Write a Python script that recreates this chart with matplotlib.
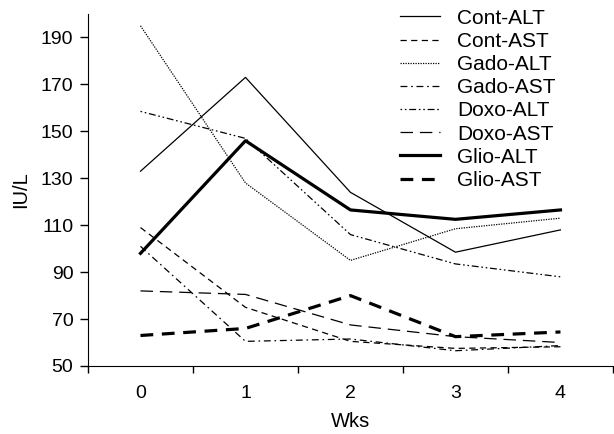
import numpy as np
import matplotlib
matplotlib.use('Agg')
import matplotlib.pyplot as plt

plt.rcParams['font.family'] = ['Liberation Sans', 'DejaVu Sans']

weeks = [0, 1, 2, 3, 4]
cont_alt = [133, 173, 124, 98.5, 108]
cont_ast = [109, 75, 60.5, 57.5, 58.2]
gado_alt = [195, 128, 95, 108.5, 113]
gado_ast = [101, 60.5, 61.5, 56.5, 58.7]
doxo_alt = [158.5, 147, 106, 93.5, 88]
doxo_ast = [82, 80.5, 67.5, 62.5, 60]
glio_alt = [98, 146, 116.5, 112.5, 116.5]
glio_ast = [63, 66, 80, 62.5, 64.5]

fig = plt.figure(figsize=(6.14, 4.34), dpi=100)
ax = fig.add_axes([0.1433, 0.1567, 0.855, 0.811])

thin = 0.9
ax.plot(weeks, cont_alt, color='black', lw=thin, label='Cont-ALT')
ax.plot(weeks, cont_ast, color='black', lw=thin, dashes=(5, 3.5), label='Cont-AST')
ax.plot(weeks, gado_alt, color='black', lw=thin, dashes=(1, 1), label='Gado-ALT')
ax.plot(weeks, gado_ast, color='black', lw=thin, dashes=(5.5, 3, 1.3, 3), label='Gado-AST')
ax.plot(weeks, doxo_alt, color='black', lw=thin, dashes=(1.3, 2.2, 1.3, 2.2, 5.5, 2.2), label='Doxo-ALT')
ax.plot(weeks, doxo_ast, color='black', lw=thin, dashes=(10, 5.5), label='Doxo-AST')
ax.plot(weeks, glio_alt, color='black', lw=2.3, label='Glio-ALT')
ax.plot(weeks, glio_ast, color='black', lw=2.3, dashes=(4, 2.7), label='Glio-AST')

ax.set_xlim(-0.5, 4.5)
ax.set_ylim(50, 200)
ax.set_yticks([50, 70, 90, 110, 130, 150, 170, 190])
ax.set_xticks(np.arange(-0.5, 5, 1))
ax.set_xticklabels([])
ax.set_xticks(weeks, minor=True)
ax.set_xticklabels([str(w) for w in weeks], minor=True)
ax.tick_params(axis='x', which='minor', length=0, labelsize=14, pad=14)
ax.tick_params(axis='x', which='major', length=5, width=1, direction='out')
ax.tick_params(axis='y', length=5.5, width=1, direction='out', labelsize=14, pad=5)

ax.spines['top'].set_visible(False)
ax.spines['right'].set_visible(False)

ax.set_xlabel('Wks', fontsize=14.5, labelpad=7)
ax.set_ylabel('IU/L', fontsize=14.5, labelpad=8)

fig.legend(loc='upper left', bbox_to_anchor=(0.651, 0.980), frameon=False, fontsize=15,
           handlelength=1.95, handletextpad=0.8, labelspacing=0.2,
           borderaxespad=0, borderpad=0)

fig.savefig('out.png', dpi=100)
